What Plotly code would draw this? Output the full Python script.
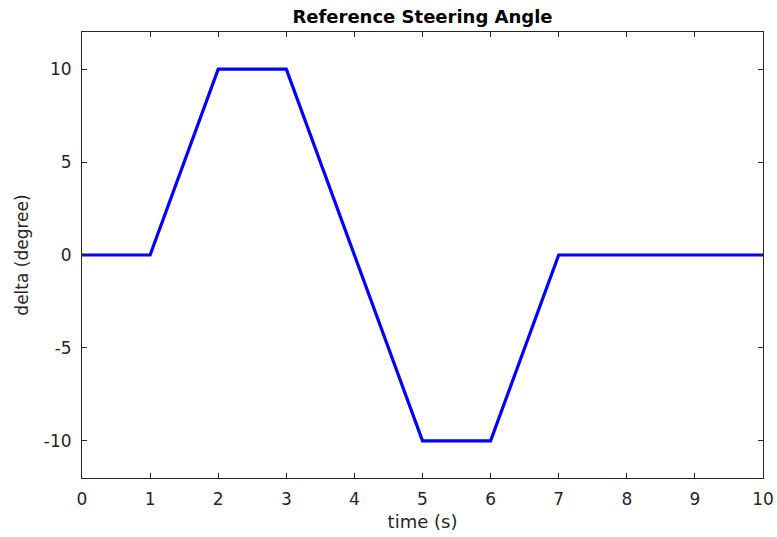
import plotly.graph_objects as go

time_s = [0, 1, 2, 3, 5, 6, 7, 10]
delta_deg = [0, 0, 10, 10, -10, -10, 0, 0]

x_tickvals = [0, 1, 2, 3, 4, 5, 6, 7, 8, 9, 10]
x_ticktext = ["0", "1", "2", "3", "4", "5", "6", "7", "8", "9", "10"]
y_tickvals = [-10, -5, 0, 5, 10]
y_ticktext = ["-10", "-5", "0", "5", "10"]

FONT = "DejaVu Sans"
TXT = "#262626"

fig = go.Figure()
fig.add_trace(go.Scatter(x=time_s, y=delta_deg, mode="lines",
                         line=dict(color="#0000FF", width=3.2)))

axis_common = dict(
    showline=True, linecolor=TXT, linewidth=1, mirror="allticks",
    ticks="inside", ticklen=5, tickwidth=1, tickcolor=TXT,
    showgrid=False, zeroline=False, automargin=False,
    tickfont=dict(family=FONT, size=17, color=TXT),
)

fig.update_layout(
    width=777, height=537,
    margin=dict(l=82, r=14, t=32, b=59),
    paper_bgcolor="white", plot_bgcolor="white",
    showlegend=False,
    title=dict(text="<b>Reference Steering Angle</b>", x=0.5, xref="paper",
               y=1, yref="paper", yanchor="bottom", pad=dict(b=9),
               font=dict(family=FONT, size=18, color="#000000")),
    xaxis=dict(range=[0, 10], tickmode="array", tickvals=x_tickvals, ticktext=x_ticktext,
               ticklabelstandoff=6,
               title=dict(text="time (s)", font=dict(family=FONT, size=18, color=TXT), standoff=6),
               **axis_common),
    yaxis=dict(range=[-12, 12], tickmode="array", tickvals=y_tickvals, ticktext=y_ticktext,
               ticklabelstandoff=6,
               title=dict(text="delta (degree)", font=dict(family=FONT, size=17, color=TXT), standoff=10),
               **axis_common),
)

fig.write_html("out.html")
